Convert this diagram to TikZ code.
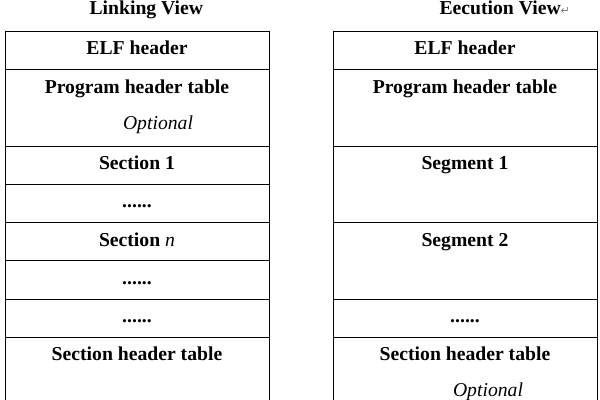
\documentclass[tikz,border=0pt]{standalone}
\usepackage{fontspec}
\setmainfont{Liberation Serif}
\newfontfamily\symfont{DejaVu Sans}
\usetikzlibrary{chains,positioning}
\newcommand{\sixdots}{......}

\begin{document}
\begin{tikzpicture}[
      start chain=L going below,start chain=R going below,node distance=-0.6pt,
      font=\fontsize{14}{16}\selectfont\bfseries,
      cell/.style={draw,line width=0.6pt,minimum width=66mm,minimum height=#1*9.56mm},
      opt/.style={anchor=base,font=\fontsize{14}{16}\selectfont\mdseries\itshape}
    ]
    \useasboundingbox (0,0) rectangle (15,-10);
    % linking view
    \node [cell=1,on chain=L,anchor=north] (l1) at (3.425,-0.775) {};
    \foreach \h [count=\i from 2] in {2,1,1,1,1,1,3} {
      \node [cell=\h,on chain=L] (l\i) {};
    }
    % execution view
    \node [cell=1,on chain=R,anchor=north] (r1) at (11.625,-0.775) {};
    \foreach \h [count=\i from 2] in {2,2,2,1,3} {
      \node [cell=\h,on chain=R] (r\i) {};
    }
    \foreach \c/\s in {l1/ELF header,l2/Program header table,l3/Section 1,
        l4/\sixdots,l5/Section {\mdseries\itshape n},l6/\sixdots,l7/\sixdots,
        l8/Section header table,r1/ELF header,r2/Program header table,
        r3/Segment 1,r4/Segment 2,r5/\sixdots,r6/Section header table} {
      \node [below=6mm of \c.north,anchor=base] (\c t) {\s};
    }
    \node [below=15mm of l2.north,opt,xshift=5.25mm] (l2o) {Optional};
    \node [below=15mm of r6.north,opt,xshift=5.75mm] (r6o) {Optional};
    \node [above=4mm of l1.north west,anchor=base west,xshift=20mm] (lv) {Linking View};
    \node [above=4mm of r1.north west,anchor=base west,xshift=25.5mm] (rv)
      {Eecution View{\symfont\mdseries\color{gray}\fontsize{8}{8}\selectfont ↵}};
  \end{tikzpicture}
\end{document}
